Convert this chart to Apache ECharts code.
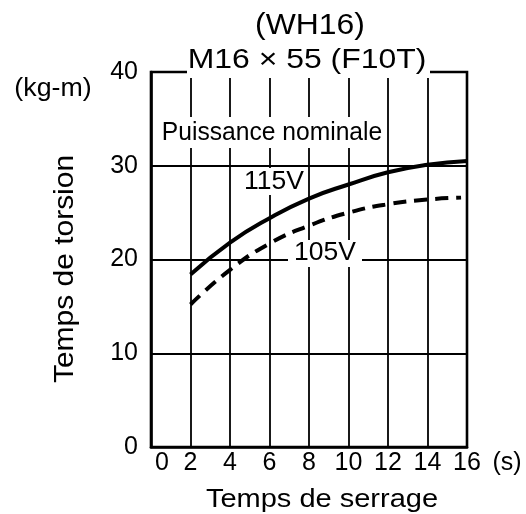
<!DOCTYPE html>
<html>
<head>
<meta charset="utf-8">
<script src="https://cdn.jsdelivr.net/npm/echarts@6/dist/echarts.min.js"></script>
<style>html,body{margin:0;padding:0;background:#fff;}#c{width:526px;height:514px;}</style>
</head>
<body>
<div id="c"></div>
<script>
var xTicks = [0, 2, 4, 6, 8, 10, 12, 14, 16];
var yTicks = [0, 10, 20, 30, 40];
var v115x = [2, 4, 6, 8, 10, 12, 14, 16];
var v115y = [18.4, 21.8, 24.4, 26.5, 28.0, 29.3, 30.1, 30.5];
var v105x = [2, 4, 6, 8, 10, 12, 14, 15.7];
var v105y = [15.2, 18.9, 21.7, 23.6, 25.0, 25.9, 26.4, 26.6];
var titleTop = '(WH16)';
var titleSub = 'M16 \u00d7 55 (F10T)';
var xName = 'Temps de serrage';
var yName = 'Temps de torsion';
var yUnit = '(kg-m)';
var xUnit = '(s)';
var note = 'Puissance nominale';
var lab115 = '115V';
var lab105 = '105V';

function pairs(xs, ys) { return xs.map(function (x, i) { return [x, ys[i]]; }); }

var FONT = '"Liberation Sans", Arial, sans-serif';
var chart = echarts.init(document.getElementById('c'), null, { renderer: 'canvas' });
var option = {
  animation: false,
  backgroundColor: '#fff',
  grid: { left: 151, right: 59, top: 72, bottom: 67, show: true, borderColor: '#000', borderWidth: 2.6, backgroundColor: 'transparent' },
  xAxis: {
    type: 'value', min: xTicks[0], max: xTicks[xTicks.length - 1], interval: 2,
    axisLine: { show: true, lineStyle: { color: '#000', width: 2.6 } },
    axisTick: { show: false },
    axisLabel: { color: '#000', fontSize: 25, fontFamily: FONT, margin: 4,
      formatter: function (v) { return v === 0 ? '{a|0}' : String(v); },
      rich: { a: { fontSize: 25, fontFamily: FONT, color: '#000', padding: [0, 0, 0, 22] } } },
    splitLine: { show: true, lineStyle: { color: '#000', width: 1.8 } }
  },
  yAxis: {
    type: 'value', min: yTicks[0], max: yTicks[yTicks.length - 1], interval: 10,
    axisLine: { show: true, lineStyle: { color: '#000', width: 2.6 } },
    axisTick: { show: false },
    axisLabel: { color: '#000', fontSize: 25, fontFamily: FONT, margin: 13 },
    splitLine: { show: true, lineStyle: { color: '#000', width: 1.8 } }
  },
  series: [
    { type: 'line', data: pairs(v115x, v115y), smooth: true, symbol: 'none', z: 5,
      lineStyle: { color: '#000', width: 4 } },
    { type: 'line', data: pairs(v105x, v105y), smooth: true, symbol: 'none', z: 5,
      lineStyle: { color: '#000', width: 4, type: [13, 8] } }
  ]
};
chart.setOption(option);

function txt(text, x, y, size, sx, rot) {
  return { type: 'text', z: 10, x: x, y: y, scaleX: sx || 1, rotation: rot || 0,
    style: { text: text, fill: '#000', font: size + 'px ' + FONT, align: 'center', verticalAlign: 'middle' } };
}
function box(x, y, w, h) {
  return { type: 'rect', z: 3, shape: { x: x, y: y, width: w, height: h }, style: { fill: '#fff' } };
}
chart.setOption({ graphic: [
  box(187, 44, 243, 34),
  box(156, 117, 230, 31),
  box(240, 168, 68, 27),
  box(288, 240, 74, 27),
  txt(titleTop, 310, 26, 29, 1.10),
  txt(titleSub, 307, 60, 28, 1.14),
  txt(note, 272, 133, 25, 0.985),
  txt(lab115, 274, 182, 26.5, 1),
  txt(lab105, 325, 253, 26.5, 1),
  txt(yUnit, 53, 89, 25, 1.07),
  txt(xUnit, 507, 463, 25, 1),
  txt(xName, 322, 500, 25, 1.16),
  txt(yName, 66, 269, 27, 1.11, Math.PI / 2)
]});
</script>
</body>
</html>
